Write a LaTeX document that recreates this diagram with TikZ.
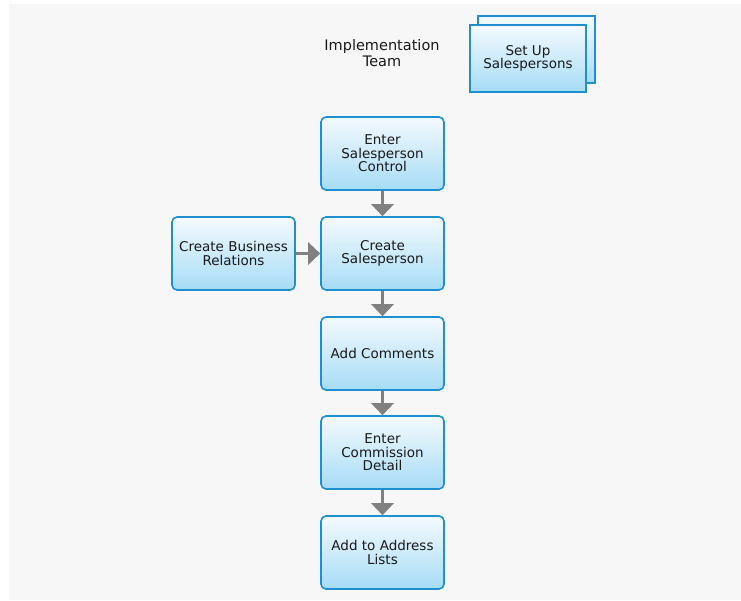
\documentclass[tikz,border=0pt]{standalone}
\usepackage{fontspec}
\setmainfont{DejaVu Sans}
\usetikzlibrary{arrows.meta}
\definecolor{bgc}{HTML}{F7F7F7}
\definecolor{bord}{HTML}{1E8FCF}
\definecolor{topc}{HTML}{F4FAFE}
\definecolor{botc}{HTML}{A6DCF6}
\definecolor{arr}{HTML}{808080}
\tikzset{
  task/.style={draw=bord, line width=1.6pt, rounded corners=5pt, top color=topc, bottom color=botc,
    minimum width=123pt, minimum height=73pt, align=center, inner sep=2pt,
    font=\fontsize{13.5}{13.5}\selectfont, text=black!90},
  flow/.style={draw=arr, line width=3pt, -{Triangle[width=22pt,length=12pt]}},
}
\begin{document}
\begin{tikzpicture}[x=1pt,y=-1pt]
\useasboundingbox (0,0) rectangle (741,600);
\fill[white] (0,0) rectangle (741,600);
\fill[bgc] (9,4) rectangle (741,600);
\node[font=\fontsize{14.5}{16}\selectfont, align=center, text=black!90] (team) at (382,53) {Implementation\\Team};
\node[task, minimum width=117pt, minimum height=67pt, draw=bord, rounded corners=0pt] (back) at (536.5,49.5) {};
\node[task, minimum width=116pt, minimum height=67pt, rounded corners=0pt] (setup) at (528,58.5) {Set Up\\Salespersons};
\node[task] (esc) at (382.5,153.5) {Enter\\Salesperson\\Control};
\node[task] (cs) at (382.5,253.5) {Create\\Salesperson};
\node[task] (cbr) at (233.5,253.5) {Create Business\\Relations};
\node[task] (ac) at (382.5,353.5) {Add Comments};
\node[task] (ecd) at (382.5,452.5) {Enter\\Commission\\Detail};
\node[task] (aal) at (382.5,552.5) {Add to Address\\Lists};
\draw[flow] (esc) -- (cs);
\draw[flow] (cbr) -- (cs);
\draw[flow] (cs) -- (ac);
\draw[flow] (ac) -- (ecd);
\draw[flow] (ecd) -- (aal);
\end{tikzpicture}
\end{document}
